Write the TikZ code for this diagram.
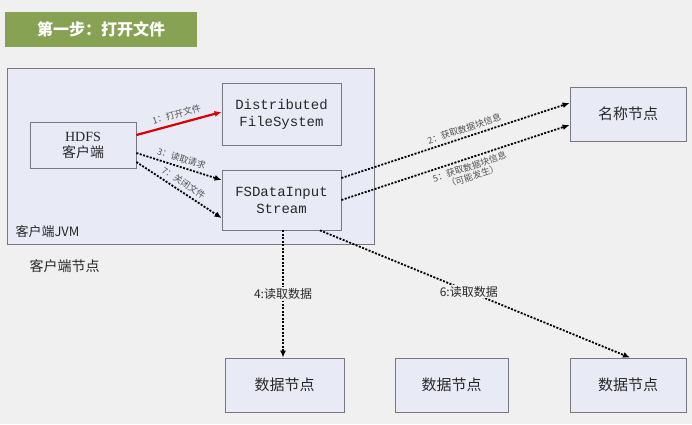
\documentclass[tikz,border=0pt]{standalone}
\usepackage{fontspec}
\setmainfont{Liberation Serif}
\newfontfamily\cjk{Noto Sans CJK SC}
\newfontfamily\mono{Liberation Mono}
\usetikzlibrary{arrows.meta}
\definecolor{bgc}{RGB}{240,240,240}
\definecolor{boxc}{RGB}{232,235,246}
\definecolor{bordc}{RGB}{120,120,130}
\definecolor{titc}{RGB}{134,162,82}
\definecolor{txt}{RGB}{40,40,40}
\tikzset{
 bx/.style={draw=bordc,fill=boxc,line width=0.8pt,inner sep=0pt,align=center,text=txt},
 dot/.style={dash pattern=on 2pt off 1.5pt,line width=1.8pt,-{Latex[length=7pt,width=6pt]}},
 lab/.style={font=\cjk\fontsize{9}{10}\selectfont,text=txt!80},
}
\begin{document}
\begin{tikzpicture}[x=1pt,y=-1pt]
\fill[bgc] (0,0) rectangle (692,424);
\node[fill=titc,minimum width=192pt,minimum height=35pt,inner sep=0pt,text=white,font=\cjk\bfseries\fontsize{16}{18}\selectfont] (title) at (101,29.5) {第一步：打开文件};
\node[bx,minimum width=367pt,minimum height=176pt] (jvm) at (190.5,156) {};
\node[anchor=west,font=\cjk\fontsize{13}{15}\selectfont,text=txt] (jvml) at (12,232) {客户端JVM};
\node[anchor=west,font=\cjk\fontsize{14}{16}\selectfont,text=txt] (cn) at (26,266) {客户端节点};
\node[bx,minimum width=106pt,minimum height=46pt,font=\fontsize{14}{16}\selectfont] (hdfs) at (83,145) {HDFS\\{\cjk 客户端}};
\node[bx,minimum width=119pt,minimum height=62pt,font=\mono\fontsize{14}{17}\selectfont] (dfs) at (281.5,114) {Distributed\\FileSystem};
\node[bx,minimum width=119pt,minimum height=60pt,font=\mono\fontsize{14}{17}\selectfont] (fs) at (281.5,200) {FSDataInput\\Stream};
\node[bx,minimum width=116pt,minimum height=54pt,font=\cjk\fontsize{15}{17}\selectfont] (nn) at (628,114) {名称节点};
\node[bx,minimum width=119pt,minimum height=54pt,font=\cjk\fontsize{15}{17}\selectfont] (d1) at (284.5,385) {数据节点};
\node[bx,minimum width=113pt,minimum height=54pt,font=\cjk\fontsize{15}{17}\selectfont] (d2) at (451.5,385) {数据节点};
\node[bx,minimum width=116pt,minimum height=54pt,font=\cjk\fontsize{15}{17}\selectfont] (d3) at (628,385) {数据节点};
\draw[red!85!black,line width=2.2pt,-{Latex[length=7pt,width=6pt]}] (hdfs.east |- 0,135) -- (dfs.west |- 0,112) node[midway,above=1pt,sloped,lab] {1：打开文件};
\draw[dot] (hdfs.east |- 0,153) -- (fs.west |- 0,180) node[midway,above,sloped,lab] {3：读取请求};
\draw[dot] (hdfs.east |- 0,162) -- (fs.west |- 0,218) node[midway,above,sloped,lab] {7：关闭文件};
\draw[dot] (fs.east |- 0,178) -- (nn.west |- 0,103) node[pos=0.55,above,sloped,lab] {2：获取数据块信息};
\draw[dot] (fs.east |- 0,200) -- (nn.west |- 0,125) node[pos=0.55,below,sloped,lab,align=center] {5：获取数据块信息\\（可能发生）};
\draw[dot] (fs.south -| 283,0) -- (d1.north -| 283,0) node[pos=0.5,fill=bgc,inner sep=1pt,font=\cjk\fontsize{12}{14}\selectfont,text=txt] {4:读取数据};
\draw[dot] (fs.south -| 320,0) -- (d3.north -| 630,0) node[pos=0.48,fill=bgc,inner sep=1pt,font=\cjk\fontsize{12}{14}\selectfont,text=txt] {6:读取数据};
\end{tikzpicture}
\end{document}
